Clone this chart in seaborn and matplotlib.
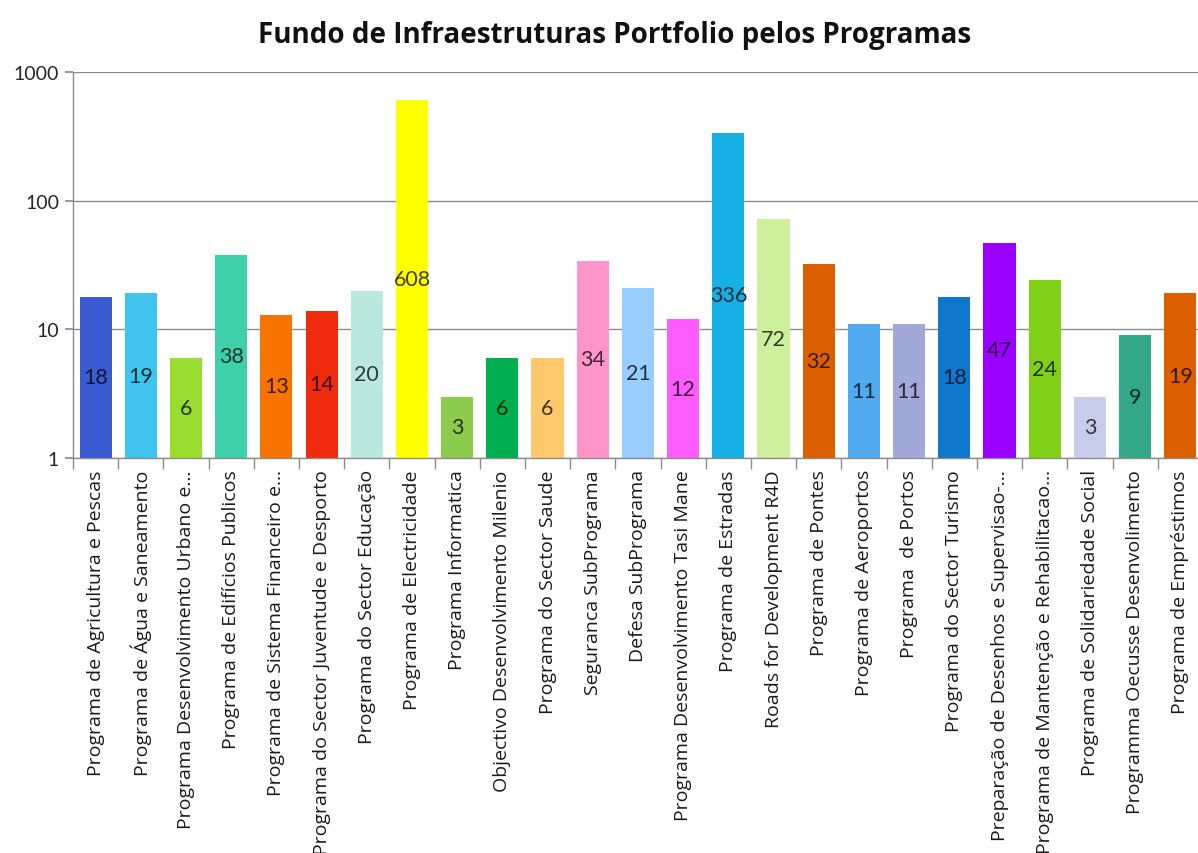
import numpy as np
import pandas as pd
import matplotlib
matplotlib.use("Agg")
import matplotlib.pyplot as plt
import matplotlib.colors as mcolors
import seaborn as sns

categories = [
    "Programa de Agricultura e Pescas",
    "Programa de Água e Saneamento",
    "Programa Desenvolvimento Urbano e...",
    "Programa de Edifícios Publicos",
    "Programa de Sistema Financeiro e...",
    "Programa do Sector Juventude e Desporto",
    "Programa do Sector Educação",
    "Programa de Electricidade",
    "Programa Informatica",
    "Objectivo Desenvolvimento Milenio",
    "Programa do Sector Saude",
    "Seguranca SubPrograma",
    "Defesa SubPrograma",
    "Programa Desenvolvimento Tasi Mane",
    "Programa de Estradas",
    "Roads for Development R4D",
    "Programa de Pontes",
    "Programa de Aeroportos",
    "Programa  de Portos",
    "Programa do Sector Turismo",
    "Preparação de Desenhos e Supervisao-...",
    "Programa de Mantenção e Rehabilitacao...",
    "Programa de Solidariedade Social",
    "Programma Oecusse Desenvolimento",
    "Programa de Empréstimos",
]
values = [18, 19, 6, 38, 13, 14, 20, 608, 3, 6, 6, 34, 21, 12, 336, 72, 32, 11, 11, 18, 47, 24, 3, 9, 19]
colors = [
    "#3A5BD2", "#40C4EE", "#98DD30", "#3FCFAA", "#F87400",
    "#F02A0C", "#B8E8DE", "#FFFF00", "#8CCC4C", "#00B050",
    "#FFC86A", "#FF94C8", "#99CCFF", "#FF5CFF", "#16B0E6",
    "#CCF09C", "#DC6000", "#50AAF0", "#A2A8D8", "#1078CC",
    "#9900FF", "#80D018", "#C8CCEC", "#33A888", "#DC6000",
]
title = "Fundo de Infraestruturas Portfolio pelos Programas"

df = pd.DataFrame({"cat": categories, "val": values})

sns.set_theme(style="white")
plt.rcParams["font.family"] = ["Open Sans", "DejaVu Sans"]

fig = plt.figure(figsize=(11.98, 8.54), dpi=100)
ax = fig.add_axes([0.0609, 0.4625, 0.9432, 0.452])

sns.barplot(data=df, x="cat", y="val", hue="cat", palette=colors,
            legend=False, width=0.71, saturation=1, linewidth=0, ax=ax)
ax.set_yscale("log")
ax.set_ylim(1, 1000)
ax.set_xlim(-0.5, len(categories) - 0.5)

ax.set_yticks([1, 10, 100, 1000])
ax.set_yticklabels(["1", "10", "100", "1000"], fontsize=14, family=["Lato", "DejaVu Sans"])
ax.yaxis.set_minor_locator(matplotlib.ticker.NullLocator())
ax.grid(axis="y", which="major", color="#8c8c8c", linewidth=1.0)
ax.set_axisbelow(True)

for s in ["top", "right"]:
    ax.spines[s].set_visible(False)
for s in ["left", "bottom"]:
    ax.spines[s].set_color("#8c8c8c")
    ax.spines[s].set_linewidth(1.0)

ax.tick_params(axis="y", which="major", left=True, length=6, color="#8c8c8c", pad=4)

# x tick labels at category centers, tick marks at boundaries
ax.set_xticks(np.arange(len(categories)))
ax.set_xticklabels(categories, rotation=90, fontsize=14, color="#1a1a1a")
ax.tick_params(axis="x", which="major", length=0, pad=8)
ax.set_xticks(np.arange(len(categories) + 1) - 0.5, minor=True)
ax.tick_params(axis="x", which="minor", bottom=True, length=8, color="#8c8c8c")
ax.set_xlabel("")
ax.set_ylabel("")

for i, v in enumerate(values):
    c = np.array(mcolors.to_rgb(colors[i])) * 0.25
    ax.text(i, np.sqrt(v), str(v), ha="center", va="center", fontsize=15.5,
            color=c, family=["Lato", "DejaVu Sans"])

fig.suptitle(title, x=0.513, y=0.975, fontsize=20, fontweight="bold", color="#111111")

fig.savefig("out.png", dpi=100, facecolor="white")
